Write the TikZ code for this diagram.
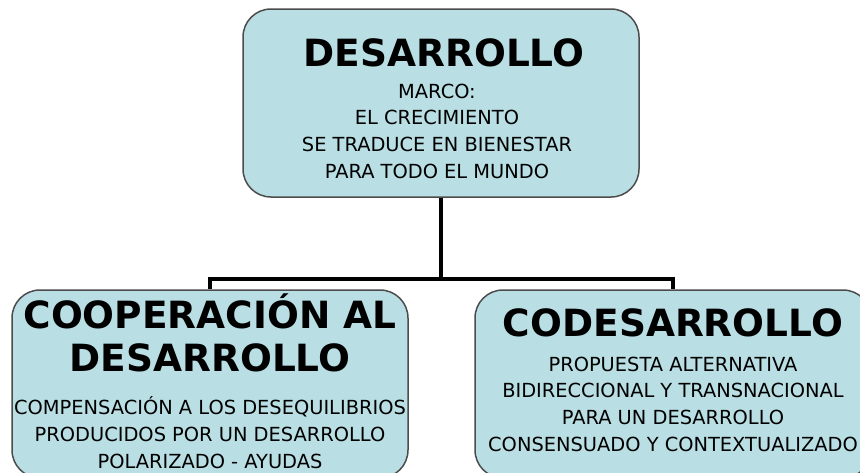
\documentclass[tikz,border=0pt]{standalone}
\usepackage{fontspec}
\setmainfont{DejaVu Sans}
\usetikzlibrary{calc,positioning}
\definecolor{celeste}{RGB}{185,223,228}

\tikzset{
	caja/.style={draw=black!70,line width=1.5pt,fill=celeste,rounded corners=28pt,
		minimum width=396pt,minimum height=188pt,inner sep=0pt},
	titulo/.style={font=\bfseries\fontsize{37.5}{43}\selectfont,align=center,anchor=base,inner sep=0pt},
	texto/.style={font=\fontsize{19.4}{26.7}\selectfont,align=center,anchor=base,inner sep=0pt},
	enlace/.style={line width=3.5pt}
}

\begin{document}
\begin{tikzpicture}[x=1pt,y=-1pt]
		\clip (0,0) rectangle (860,472);
		\node[caja] (desarrollo) at (441,103) {};
		\node[caja] (cooperacion) at (210,384) {};
		\node[caja] (codesarrollo) at (673,384) {};
		\draw[enlace]
			(desarrollo.south) -- ++(0,81) coordinate (cruce);
		\draw[enlace]
			(cooperacion.north) |- (cruce) -| (codesarrollo.north);
		\node[titulo] (tdes) at ($(desarrollo.north)+(3,58)$) {DESARROLLO};
		\node[texto] (mdes) at ($(desarrollo.north)+(-4,170)$)
			{MARCO:\\EL CRECIMIENTO\\SE TRADUCE EN BIENESTAR\\PARA TODO EL MUNDO};
		\node[titulo] (tcoop) at ($(cooperacion.north)+(0,82)$) {COOPERACIÓN AL\\DESARROLLO};
		\node[texto] (mcoop) at ($(cooperacion.north)+(0,179)$)
			{COMPENSACIÓN A LOS DESEQUILIBRIOS\\PRODUCIDOS POR UN DESARROLLO\\POLARIZADO - AYUDAS};
		\node[titulo] (tcod) at ($(codesarrollo.north)+(0,47)$) {CODESARROLLO};
		\node[texto] (mcod) at ($(codesarrollo.north)+(0,162)$)
			{PROPUESTA ALTERNATIVA\\BIDIRECCIONAL Y TRANSNACIONAL\\PARA UN DESARROLLO\\CONSENSUADO Y CONTEXTUALIZADO};
\end{tikzpicture}
\end{document}
